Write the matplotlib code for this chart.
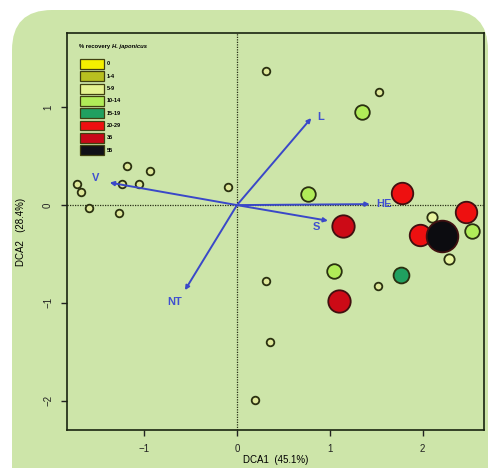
import matplotlib
matplotlib.use("Agg")
import matplotlib.pyplot as plt
from matplotlib.patches import FancyBboxPatch, Rectangle

plt.rcParams['font.family'] = ['Liberation Sans', 'DejaVu Sans']

# site scores (DCA1, DCA2) with recovery class
site_x = [0.31, 1.53, -1.72, -1.68, -1.59, -1.18, -0.94, -1.24, -1.05, -1.27, -0.10,
          0.31, 0.36, 0.19, 1.52,
          2.10, 2.28,
          1.35, 0.76, 1.04, 2.53,
          1.77,
          1.78, 2.47, 1.97,
          1.14, 1.10,
          2.21]
site_y = [1.37, 1.16, 0.22, 0.13, -0.03, 0.40, 0.35, 0.22, 0.22, -0.08, 0.18,
          -0.78, -1.40, -1.99, -0.83,
          -0.12, -0.55,
          0.95, 0.11, -0.67, -0.26,
          -0.71,
          0.12, -0.07, -0.31,
          -0.21, -0.98,
          -0.32]
site_class = [0] * 15 + [2] * 2 + [3] * 4 + [4] + [5] * 3 + [6] * 2 + [7]

class_labels = ['0', '1-4', '5-9', '10-14', '15-19', '20-29', '35', '55']
class_colors = ['#f4f000', '#b8c020', '#e4f290', '#b0ec58', '#20a060', '#ee1010', '#c80818', '#101018']

# environmental vectors
env_names = ['L', 'V', 'HE', 'S', 'NT']
env_x = [0.80, -1.37, 1.43, 0.98, -0.56]
env_y = [0.89, 0.23, 0.01, -0.16, -0.87]
env_lab_x = [0.90, -1.52, 1.58, 0.86, -0.67]
env_lab_y = [0.90, 0.28, 0.01, -0.22, -0.99]

bg = '#cde5a9'
fig = plt.figure(figsize=(4.88, 4.68), dpi=100)
fig.patch.set_facecolor('white')

# rounded slide panel behind the plot
bgax = fig.add_axes([0, 0, 1, 1], zorder=-1)
bgax.set_xlim(0, 488)
bgax.set_ylim(468, 0)
bgax.axis('off')
bgax.add_patch(FancyBboxPatch((12, 10), 476, 520, boxstyle='round,pad=0,rounding_size=40',
                              facecolor=bg, edgecolor='none'))

ax = fig.add_axes([67 / 488, 1 - 430 / 468, 417 / 488, 397 / 468])
ax.set_facecolor(bg)
ax.set_xlim(-1.83, 2.66)
ax.set_ylim(-2.30, 1.76)

ax.axhline(0, color='#2a3018', lw=0.9, ls=(0, (1, 1)), zorder=1)
ax.axvline(0, color='#2a3018', lw=0.9, ls=(0, (1, 1)), zorder=1)

sizes = [30, 40, 55, 110, 130, 240, 260, 520]
fills = ['#dfe89a', '#c8d040', '#e8f4a0', '#b0ec58', '#20a060', '#ee1010', '#cc0a16', '#0c0c10']
for x, y, c in zip(site_x, site_y, site_class):
    edge = '#2a3010' if c < 5 else '#401010'
    ax.scatter(x, y, s=sizes[c], c=fills[c], edgecolors=edge, linewidths=1.3, zorder=3)

for name, x, y, lx, ly in zip(env_names, env_x, env_y, env_lab_x, env_lab_y):
    ax.annotate('', xy=(x, y), xytext=(0, 0),
                arrowprops=dict(arrowstyle='-|>', color='#3a48c8', lw=1.4,
                                mutation_scale=6, shrinkA=0, shrinkB=0), zorder=4)
    ax.text(lx, ly, name, color='#4050d0', fontsize=8, fontweight='bold',
            ha='center', va='center', zorder=5)

# legend drawn in axes coordinates
t1 = ax.text(0.028, 0.967, '% recovery', transform=ax.transAxes, fontsize=4.2,
             fontweight='bold', va='center', ha='left')
ax.annotate('H. japonicus', xy=(1, 0.5), xycoords=t1, xytext=(1.5, 0),
            textcoords='offset points', fontsize=4.2,
            fontweight='bold', fontstyle='italic', va='center', ha='left')
for i, (lab, col) in enumerate(zip(class_labels, class_colors)):
    yy = 0.922 - i * 0.031
    ax.add_patch(Rectangle((0.031, yy - 0.0125), 0.058, 0.025, transform=ax.transAxes,
                           facecolor=col, edgecolor='#404010', lw=0.9, zorder=5))
    ax.text(0.096, yy, lab, transform=ax.transAxes, fontsize=4, fontweight='bold',
            va='center', ha='left', zorder=5)

ax.set_xticks([-1, 0, 1, 2])
ax.set_yticks([-2, -1, 0, 1])
ax.tick_params(direction='out', length=4, width=1, labelsize=7, colors='#222222', pad=6)
plt.setp(ax.get_yticklabels(), rotation=90, va='center')
for sp in ax.spines.values():
    sp.set_color('#1a2410')
    sp.set_linewidth(1.2)

ax.set_xlabel('DCA1  (45.1%)', fontsize=7, labelpad=1)
ax.set_ylabel('DCA2   (28.4%)', fontsize=7, labelpad=12)

fig.savefig('out.png', dpi=100, facecolor=fig.get_facecolor())
